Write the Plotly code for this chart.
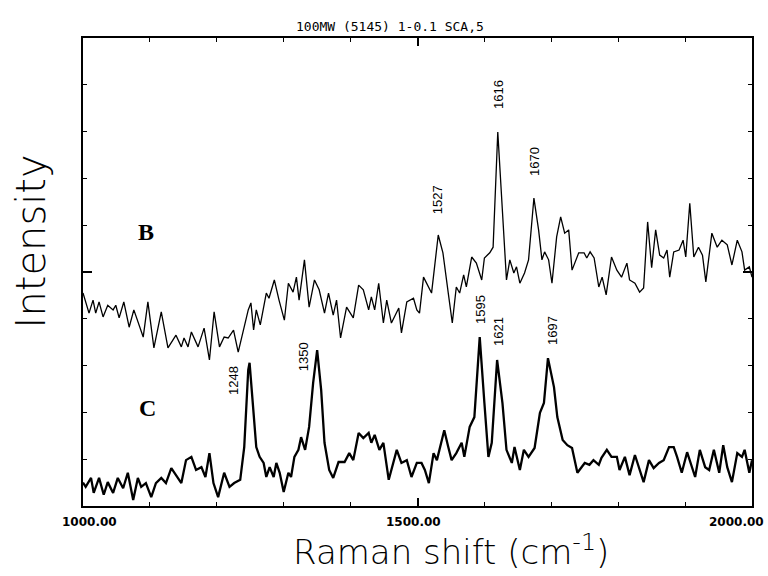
import plotly.graph_objects as go

# ---- data ----
B_shift = [1000, 1009, 1015, 1019, 1024, 1030, 1037, 1045, 1049, 1054, 1061, 1069, 1076, 1082, 1090,
           1097, 1106, 1117, 1127, 1139, 1147, 1151, 1157, 1162, 1172, 1181, 1189, 1196, 1204, 1211,
           1217, 1225, 1232, 1247, 1251, 1255, 1259, 1265, 1274, 1278, 1286, 1293, 1301, 1307, 1314,
           1319, 1323, 1331, 1338, 1346, 1353, 1361, 1367, 1374, 1379, 1385, 1394, 1404, 1412, 1419,
           1427, 1431, 1436, 1442, 1449, 1454, 1461, 1472, 1476, 1484, 1494, 1499, 1503, 1509, 1516,
           1521, 1531, 1538, 1546, 1552, 1558, 1563, 1569, 1573, 1581, 1588, 1596, 1600, 1608, 1613,
           1620, 1628, 1633, 1638, 1644, 1648, 1653, 1660, 1666, 1674, 1681, 1686, 1690, 1696, 1701,
           1708, 1714, 1720, 1726, 1731, 1741, 1749, 1753, 1758, 1764, 1771, 1776, 1782, 1790, 1798,
           1805, 1813, 1817, 1825, 1832, 1838, 1844, 1850, 1856, 1862, 1868, 1873, 1877, 1883, 1891,
           1897, 1901, 1907, 1913, 1920, 1926, 1931, 1940, 1948, 1955, 1963, 1970, 1978, 1985, 1989,
           1996, 2000]
B_int = [4.55, 4.12, 4.40, 4.12, 4.36, 4.04, 4.29, 4.19, 4.29, 4.02, 4.36, 3.82, 4.19, 3.93, 3.61,
         4.36, 3.38, 4.15, 3.38, 3.65, 3.40, 3.59, 3.40, 3.72, 3.40, 3.80, 3.12, 4.15, 3.40, 3.61,
         3.59, 3.76, 3.29, 4.19, 4.34, 3.76, 4.19, 3.87, 4.55, 4.44, 4.83, 4.40, 3.97, 4.76, 4.57,
         4.89, 4.40, 5.26, 4.25, 4.83, 4.62, 4.12, 4.55, 4.08, 4.40, 3.59, 4.25, 4.02, 4.72, 4.62,
         4.19, 4.47, 4.19, 4.76, 3.91, 4.40, 3.91, 4.23, 3.70, 4.36, 4.44, 4.19, 4.12, 4.89, 4.68,
         4.55, 5.79, 5.41, 4.55, 3.91, 4.68, 4.55, 4.94, 4.68, 5.32, 5.19, 4.83, 5.30, 5.41, 5.53,
         7.99, 6.11, 4.83, 5.26, 4.98, 5.11, 4.76, 4.98, 5.26, 6.58, 5.90, 5.26, 5.43, 5.26, 4.76,
         5.75, 6.18, 5.83, 5.90, 5.04, 5.41, 5.41, 5.30, 5.43, 5.30, 4.68, 4.89, 4.51, 5.32, 5.04,
         4.89, 5.19, 4.83, 4.76, 4.57, 4.66, 6.07, 5.09, 5.90, 5.36, 5.30, 5.47, 4.89, 5.43, 5.47,
         5.68, 5.32, 6.47, 5.32, 5.53, 5.36, 4.79, 5.83, 5.53, 5.68, 5.58, 5.15, 5.68, 5.43, 5.04,
         5.11, 4.89]

C_shift = [1000, 1004, 1012, 1016, 1024, 1031, 1037, 1045, 1052, 1060, 1067, 1075, 1082, 1087, 1094,
           1102, 1109, 1117, 1124, 1132, 1139, 1147, 1154, 1162, 1169, 1177, 1183, 1189, 1195, 1202,
           1211, 1219, 1226, 1235, 1241, 1247, 1249, 1255, 1259, 1264, 1270, 1274, 1279, 1285, 1289,
           1294, 1300, 1307, 1311, 1316, 1322, 1326, 1332, 1338, 1344, 1350, 1356, 1361, 1368, 1374,
           1382, 1391, 1398, 1404, 1412, 1419, 1427, 1431, 1436, 1443, 1449, 1457, 1464, 1469, 1476,
           1484, 1491, 1499, 1506, 1511, 1517, 1524, 1529, 1533, 1540, 1546, 1551, 1558, 1566, 1570,
           1578, 1585, 1593, 1600, 1606, 1611, 1619, 1627, 1633, 1641, 1645, 1653, 1659, 1666, 1675,
           1683, 1689, 1695, 1704, 1709, 1717, 1724, 1731, 1739, 1746, 1750, 1757, 1763, 1771, 1775,
           1783, 1790, 1798, 1802, 1810, 1817, 1825, 1832, 1838, 1846, 1853, 1861, 1868, 1876, 1883,
           1888, 1895, 1903, 1910, 1915, 1922, 1930, 1936, 1943, 1951, 1957, 1963, 1970, 1978, 1985,
           1989, 1996, 2000]
C_int = [0.50, 0.41, 0.60, 0.28, 0.60, 0.24, 0.51, 0.28, 0.60, 0.38, 0.71, 0.13, 0.60, 0.41, 0.49,
         0.19, 0.49, 0.60, 0.49, 0.81, 0.66, 0.49, 0.98, 1.05, 0.77, 0.83, 0.62, 1.13, 0.49, 0.19,
         0.71, 0.41, 0.49, 0.56, 1.26, 2.91, 3.06, 1.90, 1.26, 1.05, 0.92, 0.62, 0.83, 0.62, 0.92,
         0.71, 0.30, 0.71, 0.62, 1.05, 1.20, 1.47, 1.20, 1.69, 2.63, 3.33, 2.48, 1.35, 0.77, 0.60,
         0.94, 0.94, 1.13, 0.98, 1.56, 1.45, 1.56, 1.35, 1.52, 1.20, 1.35, 0.56, 0.92, 1.20, 0.92,
         0.98, 0.62, 0.92, 0.92, 0.77, 0.49, 1.13, 0.98, 1.20, 1.62, 1.26, 0.98, 1.13, 1.35, 1.05,
         1.69, 1.90, 3.61, 2.20, 1.05, 1.35, 3.12, 2.20, 1.20, 0.92, 1.26, 0.77, 1.20, 1.05, 1.24,
         1.99, 2.20, 3.16, 2.54, 1.90, 1.41, 1.30, 1.24, 0.71, 0.83, 0.92, 0.88, 0.98, 0.88, 1.03,
         1.20, 1.05, 1.05, 0.77, 1.05, 0.66, 1.09, 0.77, 0.51, 0.98, 0.81, 0.92, 0.98, 1.26, 1.26,
         1.05, 0.71, 1.15, 0.83, 0.62, 1.20, 0.83, 0.77, 1.20, 0.71, 1.30, 0.83, 0.51, 1.13, 1.05,
         1.20, 0.71, 0.98]

peak_labels = ["1527", "1616", "1670", "1248", "1350", "1595", "1621", "1697"]
peak_label_x = [1531, 1620, 1674, 1224, 1329, 1595, 1622, 1701]
peak_label_y = [6.54, 8.80, 7.37, 2.69, 3.18, 4.19, 3.72, 3.76]

trace_names = ["B", "C"]
trace_name_x = [1094, 1097]
trace_name_y = [5.85, 2.09]

x_tick_labels = ["1000.00", "1500.00", "2000.00"]

title_text = "100MW (5145) 1-0.1 SCA,5"
x_title = "Raman shift (cm<sup>-1</sup>)"
y_title = "Intensity"

# ---- figure ----
fig = go.Figure()
fig.add_trace(go.Scatter(x=B_shift, y=B_int, mode="lines",
                         line=dict(color="black", width=1.3), showlegend=False))
fig.add_trace(go.Scatter(x=C_shift, y=C_int, mode="lines",
                         line=dict(color="black", width=2.3), showlegend=False))

annotations = []
for t, x, y in zip(peak_labels, peak_label_x, peak_label_y):
    annotations.append(dict(x=x, y=y, xref="x", yref="y", text=t, showarrow=False,
                            textangle=-90, font=dict(family="Liberation Sans", size=13, color="black")))
for t, x, y in zip(trace_names, trace_name_x, trace_name_y):
    annotations.append(dict(x=x, y=y, xref="x", yref="y", text=t, showarrow=False,
                            font=dict(family="Liberation Serif", size=24, color="black", weight="bold")))

# tick labels (placed as in the scan)
tick_pos = [(0.010, "center"), (0.494, "center"), (1.0 + 14 / 669, "right")]
for t, (px, anc) in zip(x_tick_labels, tick_pos):
    annotations.append(dict(x=px, y=-0.034, xref="paper", yref="paper", text=t, showarrow=False,
                            xanchor=anc, yanchor="middle",
                            font=dict(family="DejaVu Sans", size=12, color="black", weight="bold")))

annotations.append(dict(x=0.459, y=1.045, xref="paper", yref="paper", text=title_text, showarrow=False,
                        font=dict(family="DejaVu Sans Mono", size=13, color="black")))
annotations.append(dict(x=0.55, y=-0.094, xref="paper", yref="paper", text=x_title, showarrow=False,
                        yanchor="middle",
                        font=dict(family="DejaVu Sans", size=34, color="black", weight=200)))
annotations.append(dict(x=-0.078, y=0.565, xref="paper", yref="paper", text=y_title, showarrow=False,
                        textangle=-90, xanchor="center", yanchor="middle",
                        font=dict(family="DejaVu Sans", size=40, color="black", weight=200)))

fig.update_layout(
    width=768, height=576,
    margin=dict(l=83, r=16, t=38, b=70),
    paper_bgcolor="white", plot_bgcolor="white",
    annotations=annotations,
    xaxis=dict(range=[1000, 2000], showgrid=False, zeroline=False,
               showline=True, linecolor="black", linewidth=2, mirror="allticks",
               ticks="inside", tickvals=[1500], ticklen=8, tickwidth=1.5, tickcolor="black",
               showticklabels=False,
               minor=dict(ticks="inside", ticklen=4, tickwidth=1.2, tickcolor="black",
                          tick0=1000, dtick=100, showgrid=False)),
    yaxis=dict(range=[0, 10], showgrid=False, zeroline=False,
               showline=True, linecolor="black", linewidth=2, mirror="allticks",
               ticks="inside", tickvals=[5], ticklen=9, tickwidth=1.5, tickcolor="black",
               showticklabels=False,
               minor=dict(ticks="inside", ticklen=4, tickwidth=1.2, tickcolor="black",
                          tick0=0, dtick=1, showgrid=False)),
)

fig.write_html("out.html", config={"displayModeBar": False},
               post_script="document.body.style.margin='0px';")
